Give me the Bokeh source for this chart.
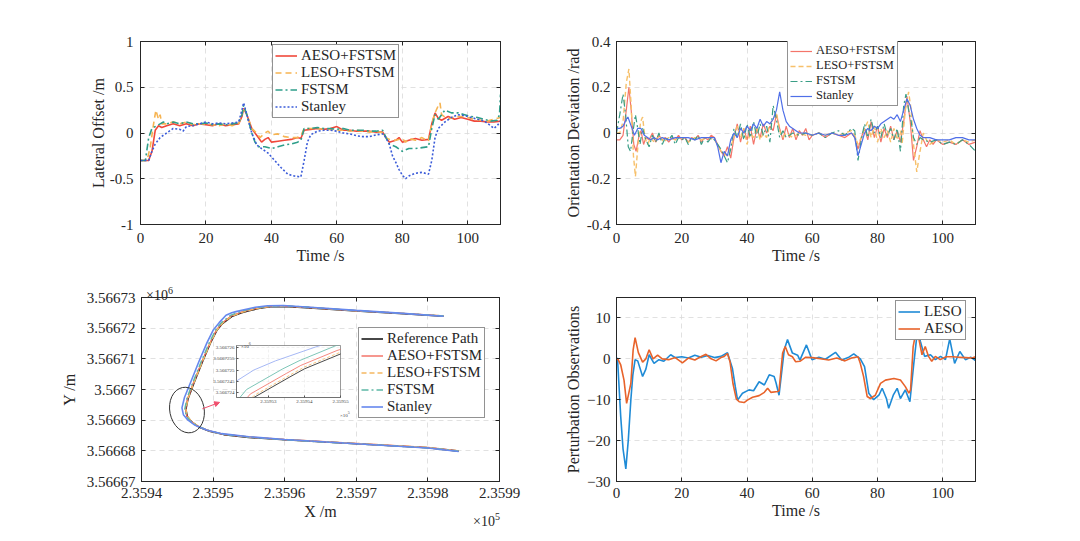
from bokeh.plotting import figure
from bokeh.layouts import column, row
from bokeh.models import (Legend, LegendItem, LinearAxis, FixedTicker, Arrow, Div,
                          NormalHead, CustomJSTickFormatter, Range1d)
from bokeh.embed import file_html
from bokeh.resources import INLINE

FONT = "Liberation Serif"
INK = "#262626"

# ---------------- Lateral offset (top-left) ----------------
lat_aeso_t = [0, 2.5, 3.5, 4.5, 5.5, 6.5, 8, 10, 12, 14, 16, 18, 20, 22, 24, 26, 28, 30, 31, 31.5, 32.5, 34, 36, 37, 38, 39, 40, 42, 44, 46, 48, 49, 50, 52, 54, 56, 58, 60, 62, 64, 66, 68, 70, 72, 74, 75, 76, 78, 79, 80, 82, 84, 86, 88, 89, 90, 91, 92, 94, 96, 98, 100, 102, 104, 106, 108, 110]
lat_aeso_v = [-0.3, -0.3, -0.2, 0.03, 0.08, 0.06, 0.08, 0.1, 0.08, 0.1, 0.08, 0.1, 0.09, 0.08, 0.1, 0.08, 0.09, 0.1, 0.18, 0.27, 0.2, 0.05, -0.05, -0.1, -0.07, -0.05, -0.1, -0.09, -0.08, -0.07, -0.05, -0.06, 0.03, 0.04, 0.05, 0.04, 0.05, 0.07, 0.03, 0.03, 0.02, 0.02, 0.02, 0.01, 0.01, -0.05, -0.1, -0.08, -0.05, -0.1, -0.08, -0.06, -0.08, -0.07, 0.1, 0.22, 0.16, 0.14, 0.18, 0.15, 0.17, 0.15, 0.13, 0.13, 0.12, 0.12, 0.13]

lat_leso_t = [0, 2, 3, 4, 4.7, 5.5, 6, 6.5, 8, 10, 12, 14, 16, 18, 20, 22, 24, 26, 28, 30, 31, 31.5, 32.5, 34, 35.5, 36.5, 38, 39, 40, 42, 44, 46, 48, 49, 50, 52, 54, 56, 58, 60, 62, 64, 66, 68, 70, 72, 74, 75, 76, 78, 80, 81, 82, 84, 86, 88, 89, 90, 91, 91.5, 92, 94, 96, 98, 100, 102, 104, 106, 108, 110]
lat_leso_v = [-0.3, -0.3, -0.15, 0.1, 0.25, 0.15, 0.2, 0.1, 0.1, 0.12, 0.1, 0.12, 0.09, 0.1, 0.1, 0.09, 0.08, 0.1, 0.08, 0.1, 0.2, 0.28, 0.2, 0.05, 0.0, -0.05, 0.0, 0.02, -0.02, -0.01, -0.04, -0.05, -0.05, -0.03, 0.05, 0.05, 0.05, 0.04, 0.04, 0.03, 0.03, 0.02, 0.03, 0.02, 0.01, 0.02, 0.0, -0.05, -0.07, -0.08, -0.06, -0.1, -0.06, -0.08, -0.05, -0.09, 0.1, 0.22, 0.3, 0.33, 0.2, 0.15, 0.18, 0.18, 0.17, 0.15, 0.14, 0.13, 0.15, 0.17]

lat_fst_t = [0, 1.5, 2.5, 3.5, 5, 6, 7, 8, 10, 12, 14, 16, 18, 20, 22, 24, 26, 28, 30, 31, 31.5, 32.5, 34, 35, 36, 38, 40, 42, 44, 46, 48, 49, 50, 52, 54, 56, 58, 60, 62, 64, 66, 68, 70, 72, 74, 75, 76, 78, 80, 82, 84, 86, 88, 89, 90, 91, 93, 95, 97, 99, 101, 103, 105, 107, 109, 109.7, 110]
lat_fst_v = [-0.3, -0.3, -0.05, 0.05, 0.08, 0.1, 0.12, 0.1, 0.12, 0.1, 0.12, 0.1, 0.1, 0.11, 0.09, 0.1, 0.09, 0.1, 0.11, 0.2, 0.3, 0.2, 0.0, -0.1, -0.15, -0.15, -0.17, -0.15, -0.13, -0.12, -0.1, -0.08, 0.05, 0.05, 0.06, 0.05, 0.05, 0.04, 0.05, 0.03, 0.03, 0.03, 0.02, 0.02, 0.03, -0.05, -0.12, -0.15, -0.2, -0.17, -0.17, -0.16, -0.15, 0.05, 0.2, 0.15, 0.25, 0.22, 0.22, 0.2, 0.18, 0.17, 0.15, 0.13, 0.14, 0.2, 0.42]

lat_stan_t = [0, 2.5, 3.5, 4.5, 6, 8, 10, 12, 13, 14, 16, 18, 20, 22, 24, 26, 28, 30, 31, 31.5, 32.5, 34, 35.5, 37, 39, 41, 43, 45, 47, 49, 50, 51, 52, 54, 56, 58, 60, 62, 64, 66, 68, 70, 72, 74, 75, 76, 77, 78, 79, 80, 81, 82, 84, 86, 88, 89, 90, 91, 93, 95, 97, 99, 101, 103, 105, 107, 108, 109, 110]
lat_stan_v = [-0.3, -0.3, -0.2, -0.12, -0.05, 0.0, 0.05, 0.04, 0.02, 0.07, 0.08, 0.1, 0.12, 0.1, 0.11, 0.1, 0.11, 0.12, 0.25, 0.33, 0.2, 0.0, -0.13, -0.17, -0.22, -0.3, -0.38, -0.45, -0.47, -0.48, -0.3, -0.1, -0.02, 0.02, 0.03, 0.03, 0.02, 0.0, -0.01, -0.03, -0.04, -0.04, -0.02, -0.01, -0.05, -0.12, -0.25, -0.32, -0.4, -0.46, -0.5, -0.47, -0.44, -0.43, -0.45, -0.3, -0.05, 0.05, 0.12, 0.17, 0.2, 0.19, 0.17, 0.15, 0.13, 0.08, 0.05, 0.08, 0.13]

# ---------------- Orientation deviation (top-right) ----------------
ori_aeso_t = [0, 1, 2, 3, 3.8, 4.5, 5.3, 6, 6.8, 7.5, 8.3, 9, 10, 11, 12, 13, 14, 15, 16, 17, 18, 19, 20, 21, 22, 23, 24, 25, 26, 27, 28, 29, 30, 31, 32, 33, 34, 35, 36, 37, 38, 39, 40, 41, 42, 43, 44, 45, 46, 47, 48, 49, 50, 51, 52, 53, 54, 55, 56, 57, 58, 59, 60, 62, 64, 66, 68, 70, 72, 73, 74, 75, 76, 77, 78, 79, 80, 81, 82, 83, 84, 85, 86, 87, 88, 89, 90, 91, 92, 93, 94, 95, 96, 97, 98, 100, 102, 104, 106, 108, 110]
ori_aeso_v = [-0.03, -0.03, -0.01, 0.1, 0.2, 0.1, -0.05, -0.08, -0.02, 0.01, -0.05, -0.02, -0.03, 0.0, -0.04, -0.01, -0.03, -0.02, -0.04, -0.02, -0.03, -0.01, -0.03, -0.02, -0.04, -0.02, -0.03, -0.01, -0.04, -0.02, -0.03, -0.01, -0.02, -0.05, -0.08, -0.1, -0.06, -0.11, -0.02, 0.04, -0.04, 0.02, -0.03, 0.03, -0.05, 0.02, -0.02, 0.04, 0.0, 0.03, 0.01, 0.08, 0.02, -0.03, 0.03, -0.02, 0.02, -0.03, 0.01, -0.01, 0.02, -0.03, -0.01, 0.0, -0.02, 0.0, -0.01, -0.02, 0.0, -0.02, -0.07, -0.02, 0.02, -0.03, 0.05, -0.02, 0.03, -0.04, 0.02, -0.02, 0.03, -0.03, 0.01, -0.04, 0.05, 0.16, 0.05, -0.12, -0.06, 0.01, -0.03, -0.06, -0.03, -0.05, -0.03, -0.05, -0.04, -0.05, -0.03, -0.05, -0.04]

ori_leso_t = [0, 1, 2, 3, 3.8, 4.5, 5.2, 5.8, 6.6, 7.4, 8, 8.7, 9.5, 10.5, 11.5, 13, 14.5, 16, 18, 20, 22, 24, 26, 28, 30, 31, 32, 33, 34, 35, 36, 37, 38, 39, 40, 41, 42, 43, 44, 45, 46, 47, 48, 49, 50, 51, 52, 54, 56, 58, 60, 62, 64, 66, 68, 70, 72, 73, 74, 75, 76, 77, 78, 79, 80, 81, 82, 83, 84, 85, 86, 87, 87.5, 88.5, 89.5, 90.3, 91, 92, 93, 94, 95, 96, 98, 100, 102, 104, 106, 108, 110]
ori_leso_v = [0.0, 0.0, 0.05, 0.22, 0.28, 0.12, -0.1, -0.19, -0.05, 0.05, 0.07, -0.02, -0.05, -0.02, -0.04, -0.01, -0.04, -0.02, -0.03, -0.02, -0.04, -0.02, -0.03, -0.02, -0.03, -0.05, -0.08, -0.09, -0.1, -0.06, -0.02, 0.03, -0.02, 0.02, -0.05, 0.0, -0.02, 0.03, -0.03, 0.0, -0.02, 0.04, 0.06, 0.09, 0.01, -0.02, 0.0, -0.02, 0.0, -0.01, -0.01, 0.0, -0.01, 0.0, -0.01, 0.0, 0.01, -0.01, -0.05, -0.02, 0.02, 0.05, -0.02, 0.03, -0.04, 0.02, -0.02, 0.01, -0.04, 0.02, -0.03, 0.01, -0.05, 0.1, 0.18, 0.1, -0.05, -0.17, -0.08, 0.0, -0.03, -0.05, -0.03, -0.04, -0.03, -0.05, -0.03, -0.04, -0.03]

ori_fst_t = [0, 1, 2, 2.8, 3.6, 4.3, 5, 5.8, 6.5, 7.2, 8, 9, 10, 11, 12, 13, 14, 15, 16, 17, 18, 19, 20, 21, 22, 23, 24, 25, 26, 27, 28, 29, 30, 31, 32, 33, 34, 35, 36, 37, 38, 39, 40, 41, 42, 43, 44, 45, 46, 47, 48, 49, 50, 51, 52, 54, 56, 58, 60, 62, 64, 66, 68, 70, 72, 73, 74, 75, 76, 77, 78, 79, 80, 81, 82, 83, 84, 85, 86, 87, 88, 88.7, 89.5, 90.3, 91, 92, 93, 94, 96, 98, 100, 102, 104, 106, 108, 110]
ori_fst_v = [0.0, 0.08, 0.17, 0.08, -0.06, -0.08, 0.0, 0.08, 0.02, -0.05, 0.02, -0.03, -0.06, -0.01, -0.04, 0.0, -0.05, -0.02, -0.03, -0.01, -0.05, -0.02, -0.03, -0.02, -0.05, -0.02, -0.03, -0.01, -0.05, -0.02, -0.04, -0.02, -0.03, -0.05, -0.07, -0.1, -0.13, -0.07, 0.02, -0.02, 0.04, -0.03, 0.04, -0.02, 0.05, -0.02, 0.04, -0.01, 0.03, -0.04, 0.12, 0.06, -0.02, 0.01, -0.02, 0.0, -0.01, 0.0, -0.01, 0.0, -0.02, 0.0, 0.01, -0.01, 0.02, 0.01, -0.12, -0.03, 0.04, -0.02, 0.06, 0.0, 0.03, -0.02, 0.04, -0.01, 0.02, -0.03, 0.02, -0.08, 0.12, 0.17, 0.1, 0.05, -0.02, -0.05, -0.02, -0.03, -0.04, -0.03, -0.05, -0.04, -0.05, -0.03, -0.05, -0.08]

ori_stan_t = [0, 1, 2, 3, 3.5, 4.5, 5.5, 6.5, 7.5, 8.5, 9.5, 10.5, 11.5, 12.5, 14, 16, 18, 20, 22, 24, 26, 28, 30, 31, 32, 33, 34, 35, 36, 37, 38, 39, 40, 41, 42, 43, 44, 45, 46, 47, 48, 49, 50, 51, 52, 53, 54, 56, 58, 60, 62, 64, 66, 68, 70, 72, 73, 74, 75, 76, 77, 78, 79, 80, 81, 82, 83, 84, 85, 86, 87, 88, 89, 90, 91, 92, 93, 94, 96, 98, 100, 102, 104, 106, 108, 110]
ori_stan_v = [0.02, 0.02, 0.03, 0.06, 0.07, 0.03, -0.01, 0.02, 0.02, -0.01, -0.02, -0.03, -0.02, -0.03, -0.02, -0.03, -0.02, -0.02, -0.02, -0.03, -0.02, -0.02, -0.02, -0.06, -0.13, -0.08, -0.1, -0.03, 0.0, -0.02, 0.02, 0.0, 0.03, 0.01, 0.04, 0.02, 0.06, 0.03, 0.05, 0.04, 0.06, 0.1, 0.18, 0.1, 0.05, 0.03, 0.02, 0.0, 0.0, -0.01, 0.0, -0.01, 0.0, -0.01, -0.01, 0.0, -0.02, -0.1, -0.05, 0.0, 0.02, 0.01, 0.03, 0.02, 0.04, 0.05, 0.06, 0.07, 0.06, 0.08, 0.05, 0.1, 0.15, 0.12, 0.06, 0.02, -0.01, -0.02, -0.02, -0.03, -0.03, -0.03, -0.02, -0.02, -0.03, -0.03]

# ---------------- Trajectory (bottom-left), metres ----------------
ref_x = [235984.3, 235980.0, 235970.0, 235960.0, 235955.0, 235951.5, 235949.5, 235948.0, 235947.0, 235946.4, 235946.2, 235946.5, 235947.3, 235948.5, 235949.6, 235950.5, 235951.3, 235952.6, 235953.6, 235954.0, 235955.0, 235956.5, 235958.0, 235960.0, 235963.0, 235970.0, 235976.0, 235982.2]
ref_y = [3566679.9, 3566681.0, 3566682.3, 3566683.6, 3566684.4, 3566685.3, 3566686.4, 3566687.8, 3566689.4, 3566691.2, 3566693.5, 3566697.0, 3566702.0, 3566709.0, 3566715.0, 3566719.2, 3566721.5, 3566723.8, 3566724.7, 3566725.05, 3566725.7, 3566726.5, 3566727.0, 3566727.1, 3566726.7, 3566725.6, 3566724.8, 3566723.9]
aeso_x = [235984.3, 235980.0, 235970.0, 235960.0, 235955.0, 235951.45, 235949.45, 235947.95, 235946.95, 235946.35, 235946.15, 235946.45, 235947.25, 235948.45, 235949.55, 235950.45, 235951.25, 235952.5, 235953.5, 235953.9, 235954.9, 235956.4, 235958.0, 235960.0, 235963.0, 235970.0, 235976.0, 235982.2]
aeso_y = [3566680.0, 3566681.1, 3566682.4, 3566683.7, 3566684.5, 3566685.4, 3566686.5, 3566687.9, 3566689.5, 3566691.3, 3566693.6, 3566697.1, 3566702.1, 3566709.1, 3566715.1, 3566719.3, 3566721.6, 3566723.95, 3566724.85, 3566725.2, 3566725.85, 3566726.6, 3566727.1, 3566727.2, 3566726.8, 3566725.7, 3566724.9, 3566724.0]
leso_x = [235984.3, 235980.0, 235970.0, 235960.0, 235955.0, 235951.5, 235949.5, 235948.0, 235947.0, 235946.4, 235946.2, 235946.5, 235947.3, 235948.5, 235949.6, 235950.5, 235951.3, 235952.6, 235953.6, 235954.0, 235955.0, 235956.5, 235958.0, 235960.0, 235963.0, 235970.0, 235976.0, 235982.2]
leso_y = [3566680.0, 3566681.1, 3566682.4, 3566683.7, 3566684.5, 3566685.4, 3566686.5, 3566687.9, 3566689.5, 3566691.3, 3566693.6, 3566697.1, 3566702.1, 3566709.1, 3566715.1, 3566719.3, 3566721.6, 3566723.88, 3566724.78, 3566725.13, 3566725.78, 3566726.6, 3566727.1, 3566727.2, 3566726.8, 3566725.7, 3566724.9, 3566724.0]
fst_x = [235984.3, 235980.0, 235970.0, 235960.0, 235955.0, 235951.4, 235949.4, 235947.9, 235946.85, 235946.25, 235946.05, 235946.35, 235947.15, 235948.35, 235949.45, 235950.35, 235951.15, 235952.4, 235953.4, 235953.85, 235954.85, 235956.4, 235958.0, 235960.0, 235963.0, 235970.0, 235976.0, 235982.2]
fst_y = [3566679.9, 3566681.0, 3566682.3, 3566683.6, 3566684.5, 3566685.4, 3566686.6, 3566688.0, 3566689.6, 3566691.4, 3566693.7, 3566697.2, 3566702.2, 3566709.2, 3566715.2, 3566719.4, 3566721.8, 3566724.15, 3566725.05, 3566725.4, 3566726.05, 3566726.8, 3566727.2, 3566727.3, 3566726.9, 3566725.7, 3566724.9, 3566724.0]
stan_x = [235984.3, 235980.0, 235970.0, 235960.0, 235955.0, 235951.2, 235949.1, 235947.5, 235946.5, 235945.85, 235945.65, 235946.0, 235946.85, 235948.05, 235949.15, 235950.05, 235950.85, 235951.8, 235952.6, 235953.2, 235954.3, 235955.9, 235957.6, 235959.8, 235963.0, 235970.0, 235976.0, 235982.2]
stan_y = [3566679.8, 3566680.9, 3566682.3, 3566683.7, 3566684.6, 3566685.6, 3566686.8, 3566688.3, 3566690.0, 3566691.8, 3566694.0, 3566697.4, 3566702.3, 3566709.3, 3566715.3, 3566719.5, 3566721.8, 3566724.2, 3566725.0, 3566725.4, 3566726.0, 3566726.8, 3566727.3, 3566727.4, 3566726.9, 3566725.8, 3566724.9, 3566723.9]

zoom_circle = dict(x=235946.35, y=3566693.3, w=4.8, h=15.0, angle=0.2)
zoom_arrow = dict(x0=235948.5, y0=3566693.7, x1=235950.9, y1=3566695.8)

# ---------------- Perturbation observations (bottom-right) ----------------
per_leso_t = [0, 0.3, 1.3, 2.0, 2.86, 3.6, 4.4, 5.0, 5.7, 6.5, 8.0, 9.0, 10.0, 11.5, 13.0, 14.5, 16.6, 18.0, 20.0, 22.0, 24.0, 26.0, 28.0, 30.0, 32.0, 34.0, 35.5, 36.4, 37.1, 38.6, 40.6, 42.0, 43.7, 45.3, 46.8, 48.3, 48.9, 49.8, 51.4, 52.4, 53.9, 55.5, 56.2, 58.2, 59.9, 62.0, 64.0, 67.1, 69.0, 71.0, 72.7, 74.7, 76.0, 77.3, 78.8, 80.4, 81.4, 82.7, 83.4, 84.8, 86.0, 87.0, 88.5, 89.9, 91.1, 92.3, 93.1, 94.4, 96.2, 97.7, 99.3, 100.8, 102.1, 103.6, 105.2, 106.9, 108.5, 110]
per_leso_v = [0.0, 0.2, -14.2, -22.0, -26.9, -20.0, -10.0, -4.0, -0.2, -0.5, -4.3, -2.5, 1.0, -1.1, -0.2, -0.6, 1.0, 0.3, 0.5, 0.2, 0.9, 0.4, 0.8, 0.3, 0.6, 1.5, -2.3, -6.8, -10.1, -8.4, -7.6, -7.8, -5.6, -6.4, -3.9, -4.3, -5.9, -8.9, 2.2, 4.7, 1.4, 0.9, -0.3, 3.4, -0.2, 0.4, -0.1, 1.6, -0.3, 0.3, 1.2, 0.0, -1.9, -8.4, -10.0, -8.9, -7.2, -9.7, -12.1, -8.9, -7.2, -9.7, -7.6, -10.5, -1.1, 7.5, 4.3, 0.6, 1.0, -0.2, 0.6, -0.2, 4.9, -1.1, 1.8, -0.2, 0.4, -0.4]

per_aeso_t = [0, 0.5, 1.3, 2.3, 3.1, 4.4, 5.1, 5.7, 6.7, 8.0, 9.0, 10.0, 11.2, 12.6, 14.0, 16.0, 18.0, 20.2, 22.0, 24.0, 25.5, 27.4, 29.0, 30.5, 32.0, 33.0, 34.0, 34.8, 35.7, 36.7, 37.6, 39.1, 40.1, 41.7, 43.7, 45.3, 46.3, 47.3, 49.4, 49.8, 50.9, 51.7, 52.7, 53.9, 54.9, 56.2, 58.0, 60.0, 62.5, 65.0, 67.5, 70.0, 72.0, 74.0, 74.7, 75.7, 76.8, 77.8, 79.3, 80.9, 82.4, 85.0, 87.0, 88.5, 89.6, 90.1, 90.9, 91.6, 92.6, 93.6, 94.6, 95.6, 96.6, 97.7, 99.2, 101.0, 103.0, 105.0, 107.0, 109.0, 110]
per_aeso_v = [0.0, -0.2, -1.5, -5.2, -10.9, -6.0, 2.2, 5.2, 1.5, -0.8, 0.0, 2.2, 0.0, 0.9, 0.0, -0.2, 0.3, -1.0, 0.2, -0.3, 0.4, 1.1, 0.0, -0.5, 0.3, 0.6, 1.3, -0.8, -6.1, -9.8, -10.5, -10.7, -10.1, -9.4, -9.0, -8.2, -7.2, -8.2, -8.0, -7.8, 1.4, 3.0, 1.0, 0.5, -0.7, -0.6, 0.4, 0.3, 0.0, -0.3, 0.2, -0.5, 0.2, 0.5, -1.1, -4.3, -9.2, -9.7, -8.9, -6.0, -5.2, -4.8, -5.2, -6.8, -8.4, -7.6, 3.0, 6.0, 5.1, 1.0, 3.0, 0.6, -0.6, 0.6, -0.2, 0.5, 0.5, 0.4, 0.3, 0.2, 0.5]

# ---------------- Styling helpers ----------------
def base_fig(w, h, xr, yr, bl, br, bt, bb):
    p = figure(width=w, height=h, x_range=xr, y_range=yr, title=None,
               toolbar_location=None, output_backend="svg",
               min_border_left=bl, min_border_right=br, min_border_top=bt, min_border_bottom=bb)
    p.outline_line_color = INK
    p.outline_line_width = 1
    p.background_fill_color = "white"
    p.border_fill_color = "white"
    for g in (p.xgrid[0], p.ygrid[0]):
        g.grid_line_color = "#d9d9d9"
        g.grid_line_dash = "5 4"
        g.grid_line_width = 0.8
    return p


def style_axis(ax, fs="15px", lfs="16px", standoff=7, lstandoff=2):
    ax.axis_line_color = INK
    ax.major_tick_line_color = INK
    ax.major_tick_in = 4
    ax.major_tick_out = 0
    ax.minor_tick_line_color = None
    ax.major_label_text_font = FONT
    ax.major_label_text_font_size = fs
    ax.major_label_text_color = INK
    ax.major_label_standoff = standoff
    ax.axis_label_text_font = FONT
    ax.axis_label_text_font_size = lfs
    ax.axis_label_text_font_style = "normal"
    ax.axis_label_text_color = INK
    ax.axis_label_standoff = lstandoff


def mirror(p, xt, yt):
    # box-style inward ticks on the top and right edges, no labels
    for side, t in (("above", xt), ("right", yt)):
        a = LinearAxis(ticker=t)
        style_axis(a)
        a.major_label_text_color = None
        a.major_label_standoff = 0
        p.add_layout(a, side)


def add_legend(p, items, loc, fs, lh, gw=22):
    lg = Legend(items=[LegendItem(label=l, renderers=[r]) for l, r in items], location=loc)
    lg.label_text_font = FONT
    lg.label_text_font_size = fs
    lg.label_text_color = INK
    lg.border_line_color = INK
    lg.border_line_width = 1
    lg.background_fill_color = "white"
    lg.background_fill_alpha = 1
    lg.padding = 2
    lg.spacing = 0
    lg.margin = 0
    lg.label_height = lh
    lg.glyph_height = lh
    lg.glyph_width = gw
    lg.label_standoff = 4
    p.add_layout(lg, "center")


def text_div(html, left, top, size, color=INK):
    return Div(text=html, width=60, height=int(size * 1.6),
               styles={"position": "absolute", "left": f"{left}px", "top": f"{top}px",
                       "font-family": FONT, "font-size": f"{size}px", "color": color,
                       "line-height": "1.2", "z-index": "6", "white-space": "nowrap"})


numfmt = CustomJSTickFormatter(code="return String(Math.round(tick*1000)/1000)")

# ---------------- Top-left ----------------
p1 = base_fig(540, 270, (0, 110), (-1, 1), 140, 40, 40, 46)
xt1 = FixedTicker(ticks=[0, 20, 40, 60, 80, 100])
yt1 = FixedTicker(ticks=[-1, -0.5, 0, 0.5, 1])
p1.xaxis.ticker = xt1
p1.yaxis.ticker = yt1
p1.yaxis.formatter = numfmt
p1.xaxis.axis_label = "Time /s"
p1.yaxis.axis_label = "Lateral Offset /m"
style_axis(p1.xaxis[0], standoff=8, lstandoff=1)
style_axis(p1.yaxis[0], standoff=7, lstandoff=0)
mirror(p1, xt1, yt1)
r1a = p1.line(lat_aeso_t, lat_aeso_v, line_color="#F0483A", line_width=1.6)
r1b = p1.line(lat_leso_t, lat_leso_v, line_color="#F6B452", line_width=1.6, line_dash="6 4")
r1c = p1.line(lat_fst_t, lat_fst_v, line_color="#2E9E8A", line_width=1.6, line_dash="7 3 2 3")
r1d = p1.line(lat_stan_t, lat_stan_v, line_color="#3A5BD9", line_width=1.6, line_dash="2 2")
add_legend(p1, [("AESO+FSTSM", r1a), ("LESO+FSTSM", r1b), ("FSTSM", r1c), ("Stanley", r1d)],
           (132, 106), "15px", 17)

# ---------------- Top-right ----------------
p2 = base_fig(540, 270, (0, 110), (-0.4, 0.4), 76, 105, 41, 46)
yt2 = FixedTicker(ticks=[-0.4, -0.2, 0, 0.2, 0.4])
p2.xaxis.ticker = xt1
p2.yaxis.ticker = yt2
p2.yaxis.formatter = numfmt
p2.xaxis.axis_label = "Time /s"
p2.yaxis.axis_label = "Orientation Deviation /rad"
style_axis(p2.xaxis[0], standoff=8, lstandoff=1)
style_axis(p2.yaxis[0], standoff=6)
mirror(p2, xt1, yt2)
r2a = p2.line(ori_aeso_t, ori_aeso_v, line_color="#F4756A", line_width=1.2)
r2b = p2.line(ori_leso_t, ori_leso_v, line_color="#F7C06A", line_width=1.4, line_dash="5 3")
r2c = p2.line(ori_fst_t, ori_fst_v, line_color="#3A9E86", line_width=1.2, line_dash="7 3 2 3")
r2d = p2.line(ori_stan_t, ori_stan_v, line_color="#4F6FE8", line_width=1.2)
add_legend(p2, [("AESO+FSTSM", r2a), ("LESO+FSTSM", r2b), ("FSTSM", r2c), ("Stanley", r2d)],
           (171, 118), "12.5px", 14)

# ---------------- Bottom-left ----------------
p3 = base_fig(540, 271, (235940, 235990), (3566670, 3566730), 141, 41, 27, 60)
xt3 = FixedTicker(ticks=[235940, 235950, 235960, 235970, 235980, 235990])
yt3 = FixedTicker(ticks=[3566670, 3566680, 3566690, 3566700, 3566710, 3566720, 3566730])
p3.xaxis.ticker = xt3
p3.yaxis.ticker = yt3
p3.xaxis.formatter = CustomJSTickFormatter(code="return (tick/1e5).toFixed(4)")
p3.yaxis.formatter = CustomJSTickFormatter(code="return String(parseFloat((tick/1e6).toFixed(5)))")
p3.xaxis.axis_label = "X /m"
p3.yaxis.axis_label = "Y /m"
style_axis(p3.xaxis[0], standoff=6, lstandoff=2)
style_axis(p3.yaxis[0], standoff=6, lstandoff=6)
mirror(p3, xt3, yt3)
r3a = p3.line(ref_x, ref_y, line_color="#1a1a1a", line_width=1.6)
r3b = p3.line(aeso_x, aeso_y, line_color="#F26B5F", line_width=1.4)
r3c = p3.line(leso_x, leso_y, line_color="#F5B861", line_width=1.4, line_dash="5 3")
r3d = p3.line(fst_x, fst_y, line_color="#5DB8A6", line_width=1.4, line_dash="7 3 2 3")
r3e = p3.line(stan_x, stan_y, line_color="#6688EE", line_width=1.6)
p3.ellipse(x=[zoom_circle["x"]], y=[zoom_circle["y"]], width=[zoom_circle["w"]],
           height=[zoom_circle["h"]], angle=[zoom_circle["angle"]],
           fill_color=None, line_color="#333333", line_width=1)
p3.add_layout(Arrow(end=NormalHead(size=5, line_color="#F0506E", fill_color="#F0506E", line_width=1),
                    x_start=zoom_arrow["x0"], y_start=zoom_arrow["y0"],
                    x_end=zoom_arrow["x1"], y_end=zoom_arrow["y1"],
                    line_color="#F0506E", line_width=1))
add_legend(p3, [("Reference Path", r3a), ("AESO+FSTSM", r3b), ("LESO+FSTSM", r3c),
                ("FSTSM", r3d), ("Stanley", r3e)], (217, 63), "15px", 17)

# ---------------- Bottom-right ----------------
p4 = base_fig(540, 271, (0, 110), (-30, 15), 76, 105, 27, 60)
yt4 = FixedTicker(ticks=[-30, -20, -10, 0, 10])
p4.xaxis.ticker = xt1
p4.yaxis.ticker = yt4
p4.xaxis.axis_label = "Time /s"
p4.yaxis.axis_label = "Perturbation Observations"
style_axis(p4.xaxis[0], standoff=6, lstandoff=1)
style_axis(p4.yaxis[0], standoff=6)
mirror(p4, xt1, yt4)
r4a = p4.line(per_leso_t, per_leso_v, line_color="#1F8BD6", line_width=1.6)
r4b = p4.line(per_aeso_t, per_aeso_v, line_color="#E8632B", line_width=1.6)
add_legend(p4, [("LESO", r4a), ("AESO", r4b)], (279, 141), "15px", 17)

# ---------------- Inset (zoom of the turn) ----------------
ins = figure(width=146, height=76, x_range=Range1d(235952.12, 235955.0),
             y_range=Range1d(3566723.8, 3566726.07), title=None,
             toolbar_location=None, output_backend="svg",
             min_border_left=32, min_border_right=10, min_border_top=8, min_border_bottom=16,
             styles={"position": "absolute", "left": "204px", "top": "337px", "z-index": "5"})
ins.background_fill_color = "white"
ins.border_fill_alpha = 0
ins.outline_line_color = "#555555"
ins.outline_line_width = 0.6
for g in (ins.xgrid[0], ins.ygrid[0]):
    g.grid_line_color = "#e2e2e2"
    g.grid_line_dash = "3 2"
    g.grid_line_width = 0.5
ins.xaxis.ticker = FixedTicker(ticks=[235953, 235954, 235955])
ins.yaxis.ticker = FixedTicker(ticks=[3566724, 3566724.5, 3566725, 3566725.5, 3566726])
ins.xaxis.formatter = CustomJSTickFormatter(code="return (tick/1e5).toFixed(5)")
ins.yaxis.formatter = CustomJSTickFormatter(code="return String(parseFloat((tick/1e6).toFixed(7)))")
for ax in (ins.xaxis[0], ins.yaxis[0]):
    ax.axis_line_color = "#555555"
    ax.axis_line_width = 0.6
    ax.major_tick_line_color = "#555555"
    ax.major_tick_in = 2
    ax.major_tick_out = 0
    ax.minor_tick_line_color = None
    ax.major_label_text_font = FONT
    ax.major_label_text_font_size = "5px"
    ax.major_label_text_color = "#444444"
    ax.major_label_standoff = 2
ins.line(ref_x, ref_y, line_color="#1a1a1a", line_width=0.8)
ins.line(aeso_x, aeso_y, line_color="#F26B5F", line_width=0.8)
ins.line(leso_x, leso_y, line_color="#F5B861", line_width=0.8, line_dash="3 2")
ins.line(fst_x, fst_y, line_color="#5DB8A6", line_width=0.8)
ins.line(stan_x, stan_y, line_color="#8FA6F2", line_width=0.8)

# exponent notes (MATLAB style)
exp_y_main = text_div("×10<sup style='font-size:10px'>6</sup>", 141, 280, 14)
exp_x_main = text_div("×10<sup style='font-size:10px'>5</sup>", 468, 506, 14)
exp_y_ins = text_div("×10<sup style='font-size:4px'>6</sup>", 236, 337, 5, "#444444")
exp_x_ins = text_div("×10<sup style='font-size:4px'>5</sup>", 335, 406, 5, "#444444")

layout = column(row(p1, p2), row(p3, p4))
open("out.html", "w").write(file_html([layout, ins, exp_y_main, exp_x_main, exp_y_ins, exp_x_ins], INLINE))
